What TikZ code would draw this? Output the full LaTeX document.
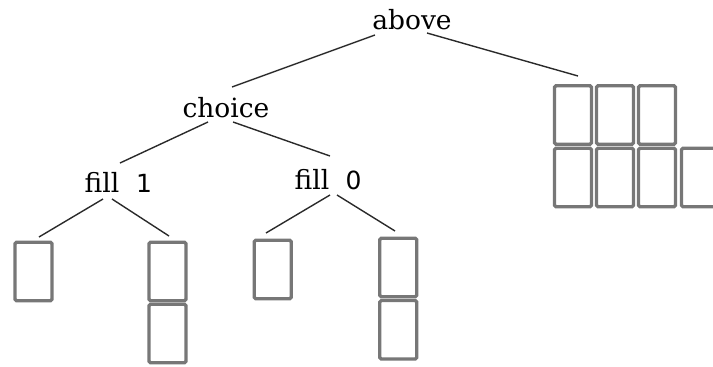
\documentclass[tikz,border=0pt]{standalone}
\usepackage{fontspec}
\setmainfont{DejaVu Serif}
\newfontfamily\digitfont{DejaVu Sans}
\definecolor{boxgray}{HTML}{777777}
\definecolor{linegray}{HTML}{2A2A2A}
\begin{document}
\begin{tikzpicture}[x=1pt,y=-1pt,
  lbl/.style={inner sep=0pt,anchor=base,font=\fontsize{26.5}{30}\selectfont},
  dig/.style={inner sep=0pt,anchor=base,font=\digitfont\fontsize{25}{29}\selectfont},
  cell/.style={draw=boxgray,line width=3.3pt,rounded corners=1.5pt,minimum width=37pt,minimum height=58.5pt,inner sep=0pt},
  conn/.style={draw=linegray,line width=1.4pt}]
\useasboundingbox (0,0) rectangle (713,367);
\clip (0,0) rectangle (713,367);
% labels
\node[lbl] (above) at (412,29) {above};
\node[lbl] (choice) at (226,117) {choice};
\node[lbl] (fillA) at (102,192) {fill};
\node[dig] (one) at (144,192) {1};
\node[lbl] (fillB) at (312,189) {fill};
\node[dig] (zero) at (353.5,189) {0};
% boxes
\node[cell] (b1) at (33.5,271.5) {};
\node[cell] (b2a) at (167.5,271.5) {};
\node[cell] (b2b) at (167.5,333.5) {};
\node[cell] (b3) at (272.7,269.5) {};
\node[cell] (b4a) at (398.3,267.5) {};
\node[cell] (b4b) at (398.3,329.8) {};
\node[cell] (g1) at (573,115) {};
\node[cell] (g2) at (615,115) {};
\node[cell] (g3) at (657,115) {};
\node[cell] (g4) at (573,177.5) {};
\node[cell] (g5) at (615,177.5) {};
\node[cell] (g6) at (657,177.5) {};
\node[cell] (g7) at (700,177.5) {};
% connector end points
\coordinate (aL) at (375,35);
\coordinate (aR) at (427,33);
\coordinate (cIn) at (232,87);
\coordinate (gIn) at (578,76);
\coordinate (cL) at (208,122);
\coordinate (cR) at (233,122);
\coordinate (fAIn) at (120,163);
\coordinate (fBIn) at (330,156);
\coordinate (fAL) at (103,199);
\coordinate (fAR) at (112,199);
\coordinate (fBL) at (330,195);
\coordinate (fBR) at (337,195);
\coordinate (b1In) at (39,237);
\coordinate (b2In) at (169,236);
\coordinate (b3In) at (266,233);
\coordinate (b4In) at (395,231);
% connectors
\draw[conn] (aL) -- (cIn);
\draw[conn] (aR) -- (gIn);
\draw[conn] (cL) -- (fAIn);
\draw[conn] (cR) -- (fBIn);
\draw[conn] (fAL) -- (b1In);
\draw[conn] (fAR) -- (b2In);
\draw[conn] (fBL) -- (b3In);
\draw[conn] (fBR) -- (b4In);
\end{tikzpicture}
\end{document}
